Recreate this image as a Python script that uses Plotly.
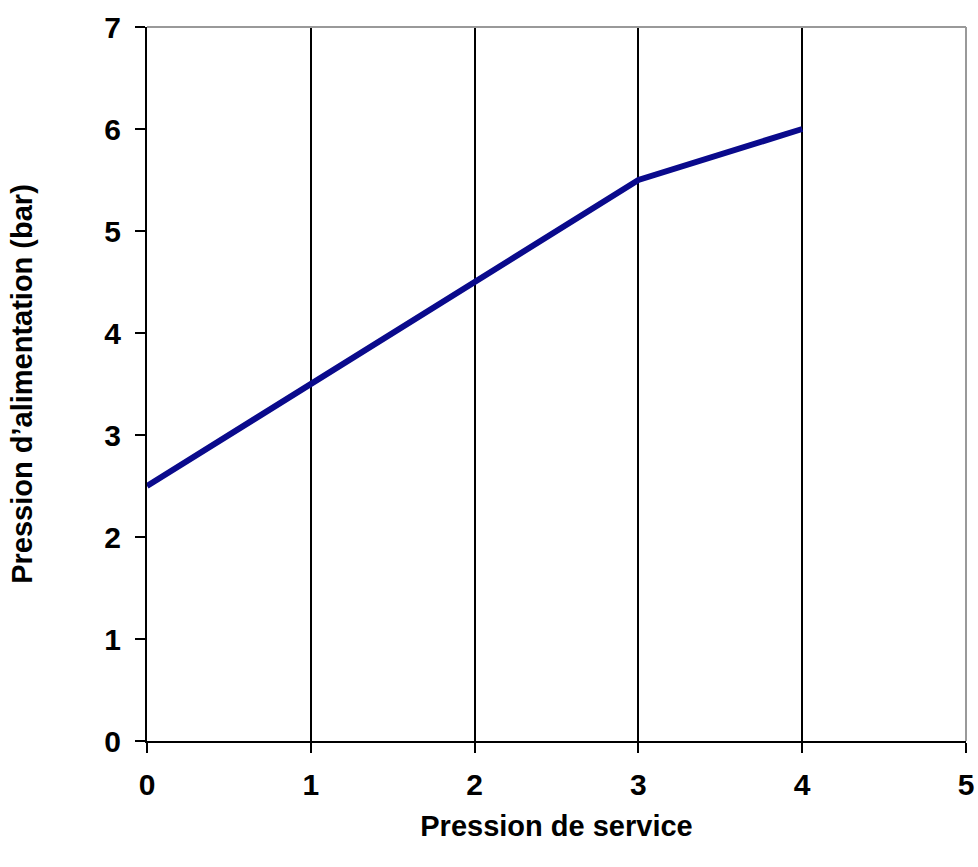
import plotly.graph_objects as go

x_vals = [0, 1, 2, 3, 4]
y_vals = [2.5, 3.5, 4.5, 5.5, 6.0]
x_ticks = [0, 1, 2, 3, 4, 5]
y_ticks = [0, 1, 2, 3, 4, 5, 6, 7]
x_title = "Pression de service"
y_title = "Pression d’alimentation (bar)"

fig = go.Figure()
fig.add_trace(go.Scatter(x=x_vals, y=y_vals, mode="lines",
                         line=dict(color="#0a0a8c", width=6), showlegend=False))

tickfont = dict(family="Liberation Sans, Arial", size=30, color="black", weight="bold")
titlefont = dict(family="Liberation Sans, Arial", size=29, color="black", weight="bold")

fig.update_xaxes(range=[0, 5], tickvals=x_ticks, ticks="outside", ticklen=10, tickwidth=2,
                 tickcolor="black", showline=True, linecolor="black", linewidth=2,
                 showgrid=True, gridcolor="black", gridwidth=2, zeroline=False,
                 tickfont=tickfont, ticklabelstandoff=6, automargin=False,
                 title=dict(text=x_title, font=titlefont, standoff=16))
fig.update_yaxes(range=[0, 7], tickvals=y_ticks, ticks="outside", ticklen=10, tickwidth=2,
                 tickcolor="black", showline=True, linecolor="black", linewidth=2,
                 showgrid=False, zeroline=False, tickfont=tickfont, ticklabelstandoff=8,
                 automargin=False,
                 title=dict(text=y_title, font=titlefont, standoff=63))

fig.add_shape(type="line", xref="paper", yref="paper", x0=0, x1=1, y0=1, y1=1,
              line=dict(color="#999999", width=2), layer="above")
fig.add_shape(type="line", xref="paper", yref="paper", x0=1, x1=1, y0=0, y1=1,
              line=dict(color="#999999", width=2), layer="above")

fig.update_layout(width=978, height=867, paper_bgcolor="white", plot_bgcolor="white",
                  margin=dict(l=147, r=12, t=27, b=126))
fig.write_html("out.html", config={"displayModeBar": False},
               post_script="document.body.style.margin='0';document.documentElement.style.overflow='hidden';")
